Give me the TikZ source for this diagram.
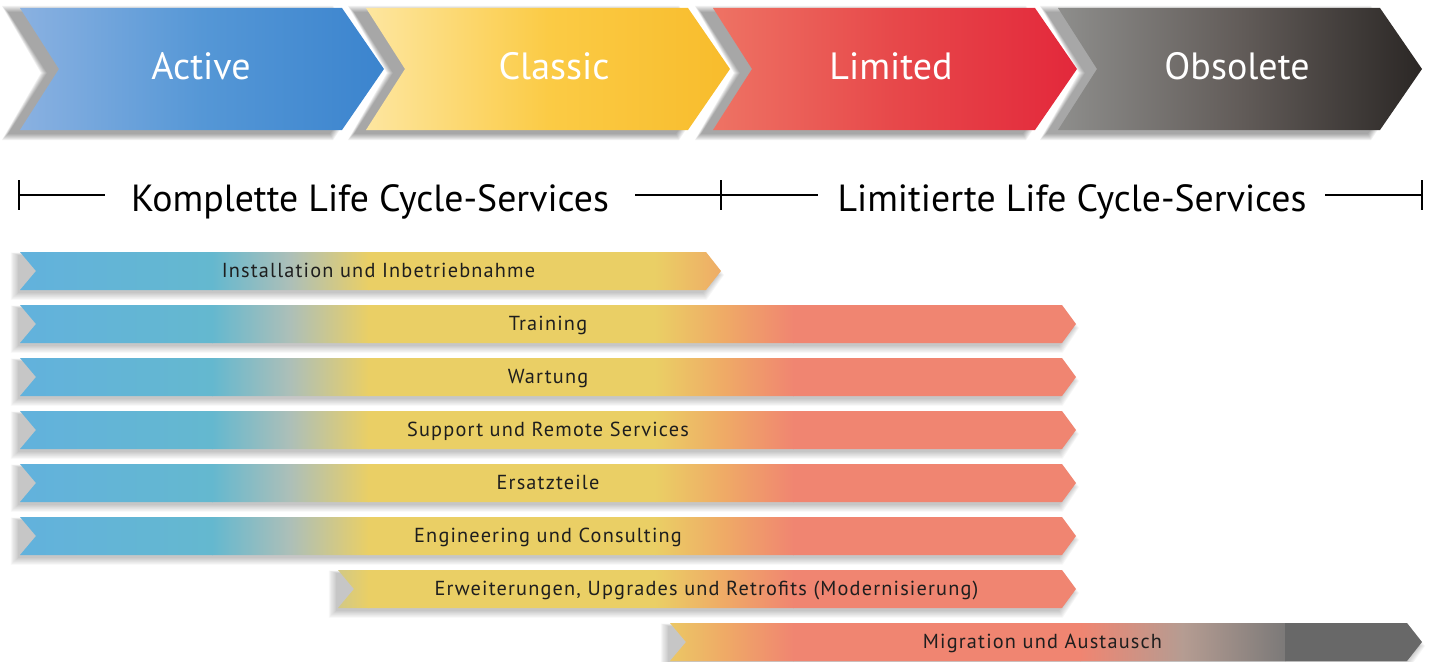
\documentclass[tikz,border=0pt]{standalone}
\usepackage{fontspec}
\newfontfamily\lblfont{PT Sans}
\newfontfamily\barfont[LetterSpace=5.8]{PT Sans}
\definecolor{actL}{HTML}{8AB1E1}
\definecolor{actM}{HTML}{5597D6}
\definecolor{actR}{HTML}{3B84CE}
\definecolor{claL}{HTML}{FDE6A0}
\definecolor{claM}{HTML}{FBCB45}
\definecolor{claR}{HTML}{F8BC2C}
\definecolor{limL}{HTML}{EE7364}
\definecolor{limM}{HTML}{E7484A}
\definecolor{limR}{HTML}{E3283B}
\definecolor{obsL}{HTML}{8E8E8C}
\definecolor{obsM}{HTML}{625C59}
\definecolor{obsR}{HTML}{2B2725}
\definecolor{bBlueA}{HTML}{62B1DE}
\definecolor{bBlueB}{HTML}{64B8CF}
\definecolor{bMix}{HTML}{ADBFB8}
\definecolor{bYel}{HTML}{EACF65}
\definecolor{bOra}{HTML}{EFAA66}
\definecolor{bSal}{HTML}{F08571}
\definecolor{bTaupe}{HTML}{B59C92}
\definecolor{bGrayA}{HTML}{7B7978}
\definecolor{bGray}{HTML}{686868}
\definecolor{barText}{HTML}{1E1E1E}

\newcommand\phasechev[5]{%
  \foreach \k in {0,...,6}{%
    \fill[black,opacity=0.06] ({#1-12-\k},{12-\k}) -- ({#1+310+\k*0.5},{12-\k}) -- ({#1+352+\k},73) -- ({#1+310+\k*0.5},{134+\k}) -- ({#1-12-\k},{134+\k}) -- ({#1+27-\k},73) -- cycle;
  }
  \shade[left color=#2, right color=#4, middle color=#3] (#1,8) -- ({#1+322},8) -- ({#1+364},69) -- ({#1+322},130) -- (#1,130) -- ({#1+39},69) -- cycle;
}

% #1 left x, #2 shoulder x, #3 tip x, #4 top y, #5 name, #6 text centre x, #7 text
\newcommand\svcbar[7]{%
  \foreach \k in {0,...,6}{%
    \fill[black,opacity=0.035] ({#1-2-\k*1.2},{#4+3-\k*0.4}) -- ({#2-3+\k*0.6},{#4+3-\k*0.4}) -- ({#3-3+\k},{#4+23}) -- ({#2-3+\k*0.6},{#4+41+\k*1.1}) -- ({#1-2-\k*1.2},{#4+41+\k*1.1}) -- cycle;
  }
  \begin{scope}
    \clip (#1,#4) -- (#2,#4) -- (#3,{#4+19}) -- (#2,{#4+38}) -- (#1,{#4+38}) -- ({#1+16},{#4+19}) -- cycle;
    \shade[left color=bBlueA, right color=bBlueB] (0,{#4-1}) rectangle (213,{#4+39});
    \shade[left color=bBlueB, right color=bYel, middle color=bMix] (212,{#4-1}) rectangle (369,{#4+39});
    \fill[bYel] (368,{#4-1}) rectangle (656,{#4+39});
    \shade[left color=bYel, right color=bSal, middle color=bOra] (655,{#4-1}) rectangle (794,{#4+39});
    \fill[bSal] (793,{#4-1}) rectangle (1081,{#4+39});
    \shade[left color=bSal, right color=bGrayA, middle color=bTaupe] (1080,{#4-1}) rectangle (1286,{#4+39});
    \fill[bGray] (1285,{#4-1}) rectangle (1437,{#4+39});
  \end{scope}
  \node[bartext] (#5) at (#6,{#4+25.5}) {#7};
}

\begin{document}
\begin{tikzpicture}[x=1pt,y=-1pt,
  chevlabel/.style={text=white, font=\lblfont\fontsize{38}{44}\selectfont, anchor=base, inner sep=0pt},
  headtext/.style={text=black, font=\lblfont\fontsize{37.8}{42}\selectfont, anchor=base, inner sep=0pt},
  bartext/.style={text=barText, font=\barfont\fontsize{20.3}{24}\selectfont, anchor=base, inner sep=0pt},
  bracket/.style={line width=2pt, black}]
\useasboundingbox (0,0) rectangle (1437,661);

% phase chevrons
\phasechev{1058}{obsL}{obsM}{obsR}{obs}
\phasechev{713}{limL}{limM}{limR}{lim}
\phasechev{366}{claL}{claM}{claR}{cla}
\phasechev{20}{actL}{actM}{actR}{act}
\node[chevlabel] (active) at (201,80) {Active};
\node[chevlabel] (classic) at (554,80) {Classic};
\node[chevlabel] (limited) at (891,80) {Limited};
\node[chevlabel] (obsolete) at (1237,80) {Obsolete};

% header brackets
\node[headtext] (komplette) at (370,211) {Komplette Life Cycle-Services};
\node[headtext] (limitierte) at (1072,211) {Limitierte Life Cycle-Services};
\coordinate (tickL) at (19,195);
\coordinate (lineLend) at (105,195);
\coordinate (lineMstart) at (635,195);
\coordinate (tickM) at (721,195);
\coordinate (lineMend) at (818,195);
\coordinate (lineRstart) at (1325,195);
\coordinate (tickR) at (1422,195);
\draw[bracket] (tickL) -- (lineLend);
\draw[bracket] (lineMstart) -- (lineMend);
\draw[bracket] (lineRstart) -- (tickR);
\draw[bracket] ([yshift=15pt]tickL) -- ([yshift=-15pt]tickL);
\draw[bracket] ([yshift=15pt]tickM) -- ([yshift=-15pt]tickM);
\draw[bracket] ([yshift=15pt]tickR) -- ([yshift=-15pt]tickR);

% service bars
\svcbar{20}{706}{721}{252}{inst}{378.5}{Installation und Inbetriebnahme}
\svcbar{20}{1062}{1076}{305}{train}{548}{Training}
\svcbar{20}{1062}{1076}{358}{wart}{548}{Wartung}
\svcbar{20}{1062}{1076}{411}{supp}{548}{Support und Remote Services}
\svcbar{20}{1062}{1076}{464}{ersatz}{548}{Ersatzteile}
\svcbar{20}{1062}{1076}{517}{eng}{548}{Engineering und Consulting}
\svcbar{338}{1062}{1076}{570}{erw}{706.5}{Erweiterungen, Upgrades und Retrofits (Modernisierung)}
\svcbar{670}{1407}{1422}{623}{mig}{1042.5}{Migration und Austausch}
\end{tikzpicture}
\end{document}
